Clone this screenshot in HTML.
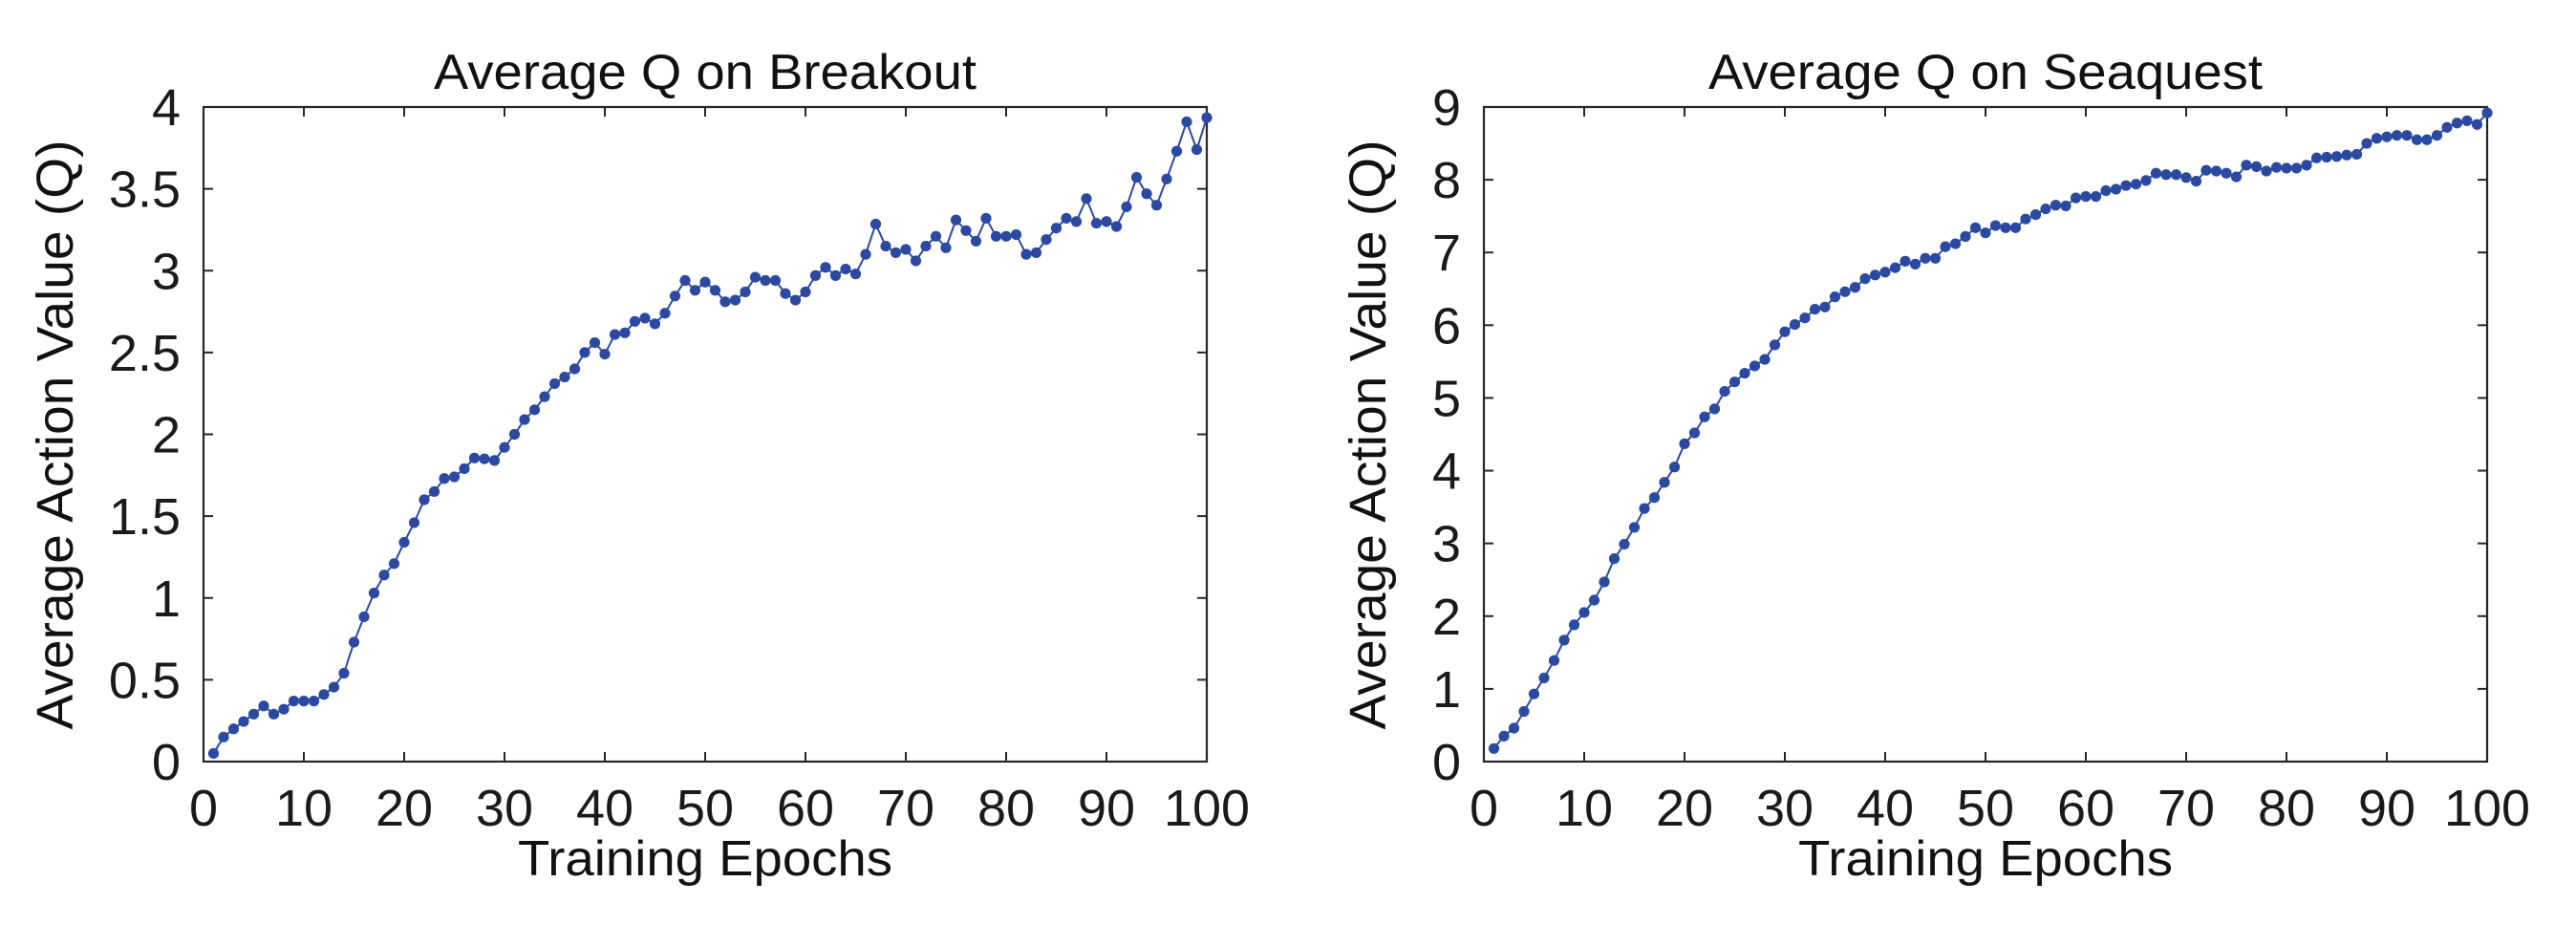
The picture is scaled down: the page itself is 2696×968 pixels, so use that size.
<!DOCTYPE html>
<html><head><meta charset="utf-8"><style>
html,body{margin:0;padding:0;background:#fff;}
svg{display:block;font-family:"Liberation Sans",sans-serif;}
</style></head><body>
<svg id="chart" width="2696" height="968" viewBox="0 0 2696 968" xmlns="http://www.w3.org/2000/svg"></svg>
<script>
const epochs = Array.from({length:100},(_,i)=>i+1);
const breakoutQ = [0.05,0.15,0.20,0.245,0.29,0.34,0.29,0.32,0.37,0.37,0.37,0.41,0.455,0.54,0.73,0.885,1.03,1.14,1.21,1.34,1.46,1.60,1.65,1.73,1.74,1.79,1.855,1.85,1.84,1.92,2.00,2.09,2.15,2.23,2.31,2.35,2.40,2.50,2.56,2.49,2.61,2.62,2.69,2.71,2.675,2.74,2.845,2.94,2.88,2.93,2.88,2.81,2.82,2.87,2.96,2.94,2.94,2.86,2.82,2.87,2.97,3.02,2.97,3.01,2.98,3.10,3.285,3.15,3.11,3.13,3.06,3.15,3.21,3.14,3.31,3.245,3.18,3.32,3.21,3.21,3.22,3.10,3.11,3.19,3.26,3.32,3.30,3.44,3.29,3.30,3.27,3.39,3.57,3.47,3.40,3.56,3.73,3.91,3.74,3.935];
const seaquestQ = [0.18,0.35,0.46,0.69,0.93,1.15,1.39,1.67,1.88,2.05,2.22,2.47,2.79,2.99,3.22,3.48,3.63,3.84,4.05,4.37,4.52,4.74,4.85,5.09,5.22,5.34,5.44,5.53,5.73,5.91,6.01,6.10,6.22,6.25,6.39,6.46,6.52,6.64,6.69,6.73,6.79,6.88,6.84,6.92,6.92,7.08,7.12,7.22,7.34,7.27,7.37,7.34,7.34,7.46,7.52,7.60,7.65,7.64,7.75,7.77,7.77,7.85,7.87,7.92,7.94,7.99,8.09,8.07,8.07,8.03,7.98,8.13,8.12,8.09,8.04,8.20,8.18,8.12,8.17,8.16,8.16,8.20,8.30,8.31,8.32,8.34,8.35,8.50,8.57,8.59,8.61,8.61,8.55,8.55,8.61,8.72,8.78,8.81,8.76,8.92];
const xTicks = [0,10,20,30,40,50,60,70,80,90,100];
const breakoutYTicks = [0,0.5,1,1.5,2,2.5,3,3.5,4];
const seaquestYTicks = [0,1,2,3,4,5,6,7,8,9];

const NS = "http://www.w3.org/2000/svg";
const svg = document.getElementById('chart');
function mk(tag, attrs, parent){
  const e = document.createElementNS(NS, tag);
  for (const k in attrs) e.setAttribute(k, attrs[k]);
  (parent||svg).appendChild(e);
  return e;
}
function panel(cfg){
  const g = mk('g', {});
  
  
  const L=cfg.left, R=cfg.right, T=112, B=797;
  const xs = v => L + (v/100)*(R-L);
  const ys = v => B - (v/cfg.ymax)*(B-T);
  const frame = mk('rect', {x:L,y:T,width:R-L,height:B-T,fill:'none',stroke:'#262626','stroke-width':2.2}, g);
  
  
  xTicks.forEach(t=>{
    const x = xs(t);
    mk('line',{x1:x,y1:B,x2:x,y2:B-10,stroke:'#262626','stroke-width':2}, g);
    mk('line',{x1:x,y1:T,x2:x,y2:T+10,stroke:'#262626','stroke-width':2}, g);
    const tx = mk('text',{x:x,y:864,'text-anchor':'middle','font-size':54,fill:'#1a1a1a'}, g);
    tx.textContent = t;
    
    
  });
  cfg.yTicks.forEach(t=>{
    const y = ys(t);
    mk('line',{x1:L,y1:y,x2:L+10,y2:y,stroke:'#262626','stroke-width':2}, g);
    mk('line',{x1:R,y1:y,x2:R-10,y2:y,stroke:'#262626','stroke-width':2}, g);
    const ty = mk('text',{x:L-24,y:y+19,'text-anchor':'end','font-size':54,fill:'#1a1a1a'}, g);
    ty.textContent = t;
    
    
  });
  const title = mk('text',{x:(L+R)/2,y:93,'text-anchor':'middle','font-size':52,fill:'#111',textLength:cfg.titleLen,lengthAdjust:'spacingAndGlyphs'}, g);
  title.textContent = cfg.title;
  
  
  const xl = mk('text',{x:(L+R)/2,y:916,'text-anchor':'middle','font-size':52,fill:'#111',textLength:392,lengthAdjust:'spacingAndGlyphs'}, g);
  xl.textContent = 'Training Epochs';
  
  
  const yl = mk('text',{x:0,y:0,'text-anchor':'middle','font-size':54,fill:'#111',textLength:617,lengthAdjust:'spacingAndGlyphs',transform:`translate(${cfg.ylabX},455) rotate(-90)`}, g);
  yl.textContent = 'Average Action Value (Q)';
  
  
  const pts = epochs.map((e,i)=>xs(e)+','+ys(cfg.data[i])).join(' ');
  const line = mk('polyline',{points:pts,fill:'none',stroke:'#2b49a0','stroke-width':2}, g);
  
  
  epochs.forEach((e,i)=>{
    const c = mk('circle',{cx:xs(e),cy:ys(cfg.data[i]),r:5.6,fill:'#2b49a0'}, g);
    
    
  });
}
panel({name:'breakout-panel',left:213,right:1263,ymax:4,yTicks:breakoutYTicks,data:breakoutQ,title:'Average Q on Breakout',titleLen:568,ylabX:76});
panel({name:'seaquest-panel',left:1553,right:2603,ymax:9,yTicks:seaquestYTicks,data:seaquestQ,title:'Average Q on Seaquest',titleLen:580,ylabX:1450});
</script>
</body></html>
